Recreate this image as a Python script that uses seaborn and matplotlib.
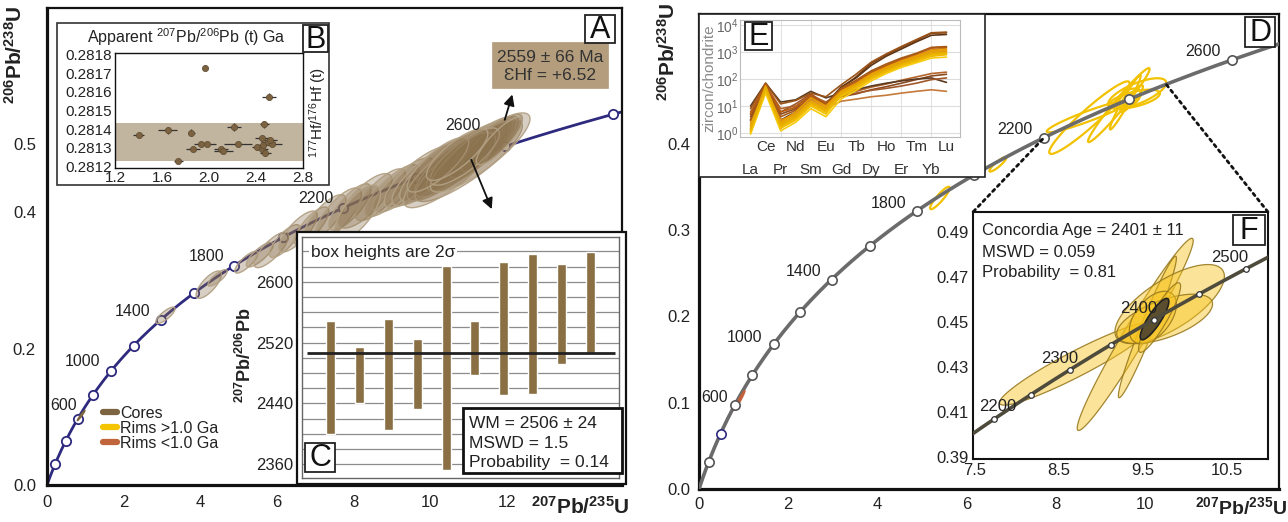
import numpy as np
import matplotlib
matplotlib.use("Agg")
import matplotlib.pyplot as plt
import seaborn as sns
from matplotlib.patches import Rectangle, ConnectionPatch
from matplotlib.lines import Line2D
from matplotlib.ticker import MultipleLocator, FixedLocator, NullLocator

# ======================= DATA =======================
LAMBDA_238 = 1.55125e-10   # decay constants (1/yr)
LAMBDA_235 = 9.8485e-10

# --- Panel A (cores / rims concordia) ---
a_marker_ages = [200, 400, 600, 800, 1000, 1200, 1400, 1600, 1800, 2000, 2200, 2400, 2600, 2800]
a_label_ages = [600, 1000, 1400, 1800, 2200, 2600]
# ellipses: centre 207Pb/235U, centre 206Pb/238U, half-extent x, half-extent y, correlation
a_ell_x = [3.09, 4.22, 4.45, 5.20, 5.55, 5.85, 6.20, 6.55, 6.90, 7.25, 7.60, 7.90, 8.30, 8.70,
           9.00, 9.30, 9.70, 10.00, 10.30, 10.60, 10.80, 11.00, 11.20, 11.40, 11.60, 11.00,
           10.50, 11.30, 10.90, 11.80, 10.20, 10.70, 8.10]
a_ell_y = [0.249, 0.294, 0.304, 0.327, 0.338, 0.345, 0.358, 0.372, 0.380, 0.392, 0.398, 0.408,
           0.417, 0.426, 0.432, 0.440, 0.452, 0.458, 0.466, 0.472, 0.478, 0.484, 0.490, 0.496,
           0.502, 0.476, 0.462, 0.488, 0.482, 0.505, 0.470, 0.485, 0.400]
a_ell_hx = [0.25, 0.33, 0.25, 0.30, 0.35, 0.45, 0.40, 0.50, 0.45, 0.55, 0.60, 0.55, 0.70, 0.65,
            0.70, 0.80, 0.90, 1.00, 1.10, 1.20, 1.20, 1.10, 1.00, 0.90, 0.80, 1.40, 1.20, 1.30,
            0.90, 0.60, 0.80, 0.80, 0.60]
a_ell_hy = [0.012, 0.020, 0.012, 0.016, 0.018, 0.026, 0.024, 0.030, 0.028, 0.034, 0.038, 0.034,
            0.040, 0.038, 0.038, 0.040, 0.045, 0.048, 0.050, 0.055, 0.055, 0.052, 0.050, 0.045,
            0.042, 0.060, 0.055, 0.058, 0.042, 0.035, 0.040, 0.038, 0.040]
a_ell_rho = [0.80, 0.75, 0.80, 0.80, 0.80, 0.78, 0.78, 0.78, 0.78, 0.76, 0.76, 0.78, 0.76, 0.78,
             0.80, 0.80, 0.80, 0.82, 0.82, 0.85, 0.85, 0.85, 0.85, 0.85, 0.85, 0.85, 0.82, 0.85,
             0.80, 0.85, 0.80, 0.80, 0.70]
a_young = [0.89, 0.102, 0.10, 0.0075, 0.97]     # young rim near 600 Ma

legend_labels = ["Cores", "Rims >1.0 Ga", "Rims <1.0 Ga"]
legend_colors = ["#7d6440", "#f5c400", "#c0643c"]

# --- Panel B (Hf isotopes) ---
b_age = [1.40, 1.65, 1.85, 1.74, 1.86, 1.93, 1.98, 1.97, 2.10, 2.12, 2.21, 2.25, 2.47, 2.51,
         2.45, 2.41, 2.45, 2.46, 2.50, 2.54, 2.48, 2.52]
b_hf = [0.281367, 0.281393, 0.281380, 0.281229, 0.281295, 0.281321, 0.281321, 0.281731,
        0.281295, 0.281284, 0.281410, 0.281321, 0.281426, 0.281575, 0.281350, 0.281302,
        0.281290, 0.281316, 0.281330, 0.281320, 0.281272, 0.281342]
b_age_err = [0.05, 0.08, 0.03, 0.04, 0.06, 0.06, 0.08, 0.02, 0.06, 0.08, 0.06, 0.12, 0.04, 0.06,
             0.06, 0.04, 0.05, 0.05, 0.06, 0.08, 0.05, 0.06]
b_hf_err = [0.000006, 0.000020, 0.000020, 0.000012, 0.000006, 0.000010, 0.000010, 0.000012,
            0.000008, 0.000008, 0.000020, 0.000005, 0.000020, 0.000020, 0.000010, 0.000012,
            0.000012, 0.000010, 0.000010, 0.000010, 0.000015, 0.000010]
b_band = [0.28123, 0.28143]

# --- Panel C (weighted mean) ---
c_low = [2400, 2440, 2405, 2433, 2353, 2478, 2451, 2453, 2492, 2506]
c_high = [2548, 2514, 2551, 2525, 2621, 2548, 2626, 2636, 2624, 2639]
c_mean = 2506

# --- Panel D (rims concordia) ---
d_marker_ages = [200, 400, 600, 800, 1000, 1200, 1400, 1600, 1800, 2000, 2200, 2400, 2600]
d_label_ages = [600, 1000, 1400, 1800, 2200, 2600]
d_ell_x = [5.40, 6.70, 8.75]
d_ell_y = [0.337, 0.376, 0.430]
d_ell_hx = [0.22, 0.19, 0.90]
d_ell_hy = [0.013, 0.0085, 0.042]
d_ell_rho = [0.90, 0.90, 0.95]
d_young = [0.905, 0.1025, 0.125, 0.0115, 0.97]

# --- Panel F (concordia age) ---
f_marker_ages = [2200, 2250, 2300, 2350, 2400, 2450, 2500]
f_label_ages = [2200, 2300, 2400, 2500]
f_ell_x = [8.715, 9.41, 9.555, 9.82, 9.76, 9.62, 9.70]
f_ell_y = [0.4315, 0.4445, 0.4478, 0.458, 0.4514, 0.452, 0.452]
f_ell_hx = [0.92, 0.69, 0.345, 0.651, 0.57, 0.28, 0.25]
f_ell_hy = [0.0185, 0.0428, 0.0315, 0.0176, 0.011, 0.0117, 0.0155]
f_ell_rho = [0.94, 0.975, 0.97, 0.70, 0.60, 0.50, 0.90]
f_conc = [9.64, 0.4513, 0.17, 0.0092, 0.85]

# --- Panel E (REE, zircon/chondrite) ---
ree_elements = ["La", "Ce", "Pr", "Nd", "Sm", "Eu", "Gd", "Tb", "Dy", "Ho", "Er", "Tm", "Yb", "Lu"]
ree_high = [
    [1.2, 55, 1.5, 4, 14, 8, 45, 120, 380, 800, 1500, 2700, 5000, 5200],
    [8, 70, 12, 16, 30, 22, 60, 150, 420, 850, 1600, 2900, 5200, 5500],
    [3, 50, 3, 6, 20, 12, 50, 110, 320, 700, 1300, 2400, 4200, 4500],
]
ree_mid_orange = [
    [2, 60, 3, 5, 15, 8, 35, 70, 160, 300, 500, 750, 1200, 1400],
    [1.5, 45, 2, 4, 12, 6, 28, 55, 130, 240, 400, 600, 950, 1100],
    [5, 65, 6, 9, 25, 12, 40, 80, 180, 320, 550, 850, 1400, 1500],
    [2.5, 50, 2.5, 5, 16, 9, 30, 60, 140, 260, 430, 650, 1000, 1150],
    [3, 55, 4, 7, 22, 11, 45, 90, 200, 360, 600, 900, 1500, 1600],
]
ree_mid_yellow = [
    [1, 40, 1.5, 3, 10, 5, 25, 50, 110, 200, 340, 520, 800, 900],
    [1.2, 35, 1.8, 3.5, 12, 7, 22, 45, 100, 180, 300, 450, 700, 800],
    [1.8, 55, 2.2, 4.5, 14, 8, 30, 60, 130, 230, 380, 580, 900, 1000],
    [0.9, 30, 1.2, 2.5, 8, 4, 18, 38, 85, 160, 270, 400, 600, 650],
    [1.5, 45, 2.5, 6, 20, 10, 35, 65, 150, 270, 450, 700, 1100, 1250],
    [1.1, 38, 1.6, 3.2, 11, 6, 24, 48, 105, 190, 320, 480, 750, 850],
    [1.4, 48, 1.9, 4, 13, 7, 27, 55, 120, 215, 360, 540, 850, 950],
]
ree_low = [
    [6, 60, 8, 10, 25, 14, 30, 35, 50, 65, 90, 120, 160, 180],
    [4, 50, 5, 8, 20, 10, 22, 28, 40, 52, 70, 95, 130, 150],
    [3, 40, 3, 5, 18, 8, 15, 18, 22, 25, 30, 35, 40, 35],
    [10, 70, 14, 17, 35, 20, 30, 40, 55, 70, 85, 100, 110, 75],
    [5, 55, 6, 12, 28, 12, 25, 30, 38, 45, 55, 70, 95, 110],
]

# ======================= STYLE / LAYOUT =======================
sns.set_theme(style="white")
plt.rcParams["font.family"] = ["Liberation Sans", "DejaVu Sans"]
plt.rcParams["mathtext.fontset"] = "custom"
plt.rcParams["mathtext.rm"] = "Liberation Sans"
plt.rcParams["mathtext.bf"] = "Liberation Sans:bold"
plt.rcParams["mathtext.it"] = "Liberation Sans:italic"
plt.rcParams["text.color"] = "#222222"

W, H = 1288, 522
fig = plt.figure(figsize=(W / 100, H / 100), dpi=100)
fig.patch.set_facecolor("white")
PT = 0.72  # points per pixel


def px_box(x0, y0, x1, y1):
    return [x0 / W, 1 - y1 / H, (x1 - x0) / W, (y1 - y0) / H]


def fig_rect(x0, y0, x1, y1, z, face="white", edge="#222222", lw=1.2):
    r = Rectangle((x0 / W, 1 - y1 / H), (x1 - x0) / W, (y1 - y0) / H,
                  transform=fig.transFigure, facecolor=face, edgecolor=edge, lw=lw, zorder=z)
    fig.add_artist(r)


def fig_text(x, y, s, **kw):
    kw.setdefault("zorder", 6)
    return fig.text(x / W, 1 - y / H, s, **kw)


def panel_letter(x0, y0, x1, y1, letter):
    fig_rect(x0, y0, x1, y1, 7, face="white", edge="#222222", lw=1.3)
    fig_text((x0 + x1) / 2, (y0 + y1) / 2 + 1, letter, ha="center", va="center",
             fontsize=22, zorder=8, color="#111111")


def conc_x(t):
    return np.exp(LAMBDA_235 * np.asarray(t, float) * 1e6) - 1


def conc_y(t):
    return np.exp(LAMBDA_238 * np.asarray(t, float) * 1e6) - 1


def ellipse(ax, cx, cy, hx, hy, rho, **kw):
    th = np.linspace(0, 2 * np.pi, 160)
    x = cx + hx * np.cos(th)
    y = cy + hy * (rho * np.cos(th) + np.sqrt(1 - rho ** 2) * np.sin(th))
    ax.fill(x, y, **kw)


def style_spines(ax, color="#111111", lw=1.5):
    for s in ax.spines.values():
        s.set_visible(True)
        s.set_color(color)
        s.set_linewidth(lw)


NAVY = "#2e2a7e"
t_curve = np.linspace(0, 2900, 600)

# ======================= PANEL A =======================
axA = fig.add_axes(px_box(47, 8, 622, 485))
axA.set_zorder(0)
axA.set_xlim(0, 15)
axA.set_ylim(0, 0.7)
sns.lineplot(x=conc_x(t_curve), y=conc_y(t_curve), sort=False, estimator=None,
             ax=axA, color=NAVY, lw=2.0, zorder=2)
sns.scatterplot(x=conc_x(a_marker_ages), y=conc_y(a_marker_ages), ax=axA, s=45,
                color="white", edgecolor=NAVY, linewidth=1.3, zorder=2.5)
for cx, cy, hx, hy, r in zip(a_ell_x, a_ell_y, a_ell_hx, a_ell_hy, a_ell_rho):
    ellipse(axA, cx, cy, hx, hy, r, facecolor=(0.55, 0.45, 0.31, 0.34),
            edgecolor=(0.70, 0.63, 0.52, 0.95), lw=1.0, zorder=3)
ellipse(axA, *a_young, facecolor="#7d6440", edgecolor="#7d6440", lw=1.0, zorder=3)

a_offsets = [(-14, -13), (-29, -9), (-28, -8), (-28, -9), (-27, -9), (-42, -21)]
for age, (dx, dy) in zip(a_label_ages, a_offsets):
    axA.annotate(str(age), (conc_x(age), conc_y(age)), xytext=(dx * PT, -dy * PT),
                 textcoords="offset points", ha="center", va="center", fontsize=11.5,
                 color="#222222", zorder=6)

axA.set_xticks(range(0, 16, 2))
axA.set_xticklabels(["0", "2", "4", "6", "8", "10", "12", ""])
axA.xaxis.set_minor_locator(MultipleLocator(1))
axA.set_yticks([0, 0.1, 0.2, 0.3, 0.4, 0.5, 0.6])
axA.set_yticklabels(["0.0", "", "0.2", "", "0.4", "0.5", ""])
axA.tick_params(axis="x", which="both", direction="in", length=5, width=1.3,
                labelsize=12, pad=7, colors="#111111", labelcolor="#222222")
axA.tick_params(axis="y", which="both", direction="inout", length=8, width=1.3,
                labelsize=12, pad=4, colors="#111111", labelcolor="#222222")
style_spines(axA, lw=1.6)
axA.spines["left"].set_linewidth(2.3)
axA.spines["bottom"].set_linewidth(2.3)

# arrows
axA.annotate("", xy=(12.16, 0.577), xytext=(11.92, 0.532),
             arrowprops=dict(arrowstyle="-|>", color="#111111", lw=1.3, mutation_scale=16), zorder=6)
axA.annotate("", xy=(11.63, 0.401), xytext=(11.04, 0.481),
             arrowprops=dict(arrowstyle="-|>", color="#111111", lw=1.3, mutation_scale=16), zorder=6)

handles = [Line2D([0], [0], color=c, lw=4.5) for c in legend_colors]
leg = axA.legend(handles, legend_labels, loc="upper left",
                 bbox_to_anchor=(103 / W, 1 - 406 / H), bbox_transform=fig.transFigure,
                 frameon=False, handlelength=0.9, handletextpad=0.15, labelspacing=0.0,
                 fontsize=11.5, borderaxespad=0, borderpad=0)

fig_text(15, 55, r"$\mathbf{^{206}Pb/^{238}U}$", rotation=90, ha="center", va="center", fontsize=15)
fig_text(580, 507, r"$\mathbf{^{207}Pb/^{235}U}$", ha="center", va="center", fontsize=15)

# tan summary box
fig_rect(492, 42, 608, 88, 5, face="#b39d7c", edge="#b39d7c", lw=0.5)
fig_text(550, 57, "2559 \u00b1 66 Ma", ha="center", va="center", fontsize=12.5, color="#333333")
fig_text(550, 76, "\u0190Hf = +6.52", ha="center", va="center", fontsize=12.5, color="#333333")
panel_letter(585, 15, 615, 43, "A")

# ======================= PANEL B =======================
fig_rect(57, 23, 329, 185, 1, face="white", edge="#333333", lw=1.2)
axB = fig.add_axes(px_box(115, 53, 303, 168))
axB.set_zorder(2)
axB.set_xlim(1.2, 2.8)
axB.set_ylim(0.28119, 0.28181)
axB.axhspan(b_band[0], b_band[1], color="#c2b59f", zorder=0, lw=0)
axB.errorbar(b_age, b_hf, xerr=b_age_err, yerr=b_hf_err, fmt="none", ecolor="#333333",
             elinewidth=0.9, capsize=0, zorder=2)
sns.scatterplot(x=b_age, y=b_hf, ax=axB, color="#7c6240", s=20, edgecolor="#5b4a30",
                linewidth=0.5, zorder=3)
axB.set_xticks([1.2, 1.6, 2.0, 2.4, 2.8])
axB.set_xticklabels(["1.2", "1.6", "2.0", "2.4", "2.8"])
axB.xaxis.set_minor_locator(MultipleLocator(0.1))
yt = [0.2812, 0.2813, 0.2814, 0.2815, 0.2816, 0.2817, 0.2818]
axB.set_yticks(yt)
axB.set_yticklabels(["%.4f" % v for v in yt])
axB.tick_params(which="both", direction="in", length=3, width=0.8, labelsize=11,
                pad=2, colors="#222222")
style_spines(axB, lw=1.0)
fig_text(186, 37, r"Apparent $^{207}$Pb/$^{206}$Pb (t) Ga", ha="center", va="center", fontsize=11.5)
fig_text(318, 112, r"$^{177}$Hf/$^{176}$Hf (t)", rotation=90, ha="center", va="center", fontsize=11)
panel_letter(303, 25, 328, 52, "B")

# ======================= PANEL C =======================
fig_rect(297, 232, 626, 484, 1, face="white", edge="#111111", lw=1.6)
axC = fig.add_axes(px_box(302, 237, 619, 478))
axC.set_zorder(2)
axC.set_xlim(0, 11)
axC.set_ylim(2342, 2659)
for v in range(2360, 2641, 20):
    axC.axhline(v, color="#8c8c8c", lw=0.9, zorder=0)
xpos = np.arange(1, len(c_low) + 1)
axC.bar(xpos, np.array(c_high) - np.array(c_low), bottom=c_low, width=0.31,
        color="#8a6f45", zorder=2)
axC.hlines(c_mean, 0.17, 10.86, color="#222222", lw=2.0, zorder=3)
axC.set_xticks([])
axC.set_yticks([2360, 2440, 2520, 2600])
axC.yaxis.set_minor_locator(FixedLocator([2400, 2480, 2560, 2640]))
axC.tick_params(axis="y", which="both", direction="out", length=4, width=0.9,
                labelsize=12, pad=2, colors="#222222")
style_spines(axC, color="#666666", lw=1.0)
fig_text(245, 355, r"$\mathbf{^{207}Pb/^{206}Pb}$", rotation=90, ha="center", va="center", fontsize=13)
fig_text(311, 252, "box heights are 2\u03c3", ha="left", va="center", fontsize=12.5,
         bbox=dict(facecolor="white", edgecolor="none", pad=1.5))
fig_rect(463, 408, 622, 473, 5, face="white", edge="#111111", lw=2.0)
fig_text(469, 423, "WM = 2506 \u00b1 24", ha="left", va="center", fontsize=12.5)
fig_text(469, 443, "MSWD = 1.5", ha="left", va="center", fontsize=12.5)
fig_text(469, 462, "Probability  = 0.14", ha="left", va="center", fontsize=12.5)
panel_letter(305, 443, 335, 472, "C")

# ======================= PANEL D =======================
axD = fig.add_axes(px_box(699, 14, 1279, 489))
axD.set_zorder(0)
axD.set_xlim(0, 13)
axD.set_ylim(0, 0.55)
YEL = "#f2c100"
for cx, cy, hx, hy, r in zip(f_ell_x + d_ell_x, f_ell_y + d_ell_y, f_ell_hx + d_ell_hx,
                             f_ell_hy + d_ell_hy, f_ell_rho + d_ell_rho):
    ellipse(axD, cx, cy, hx, hy, r, facecolor="none", edgecolor=YEL, lw=1.6, zorder=3)
sns.lineplot(x=conc_x(t_curve), y=conc_y(t_curve), sort=False, estimator=None,
             ax=axD, color="#6b6b6b", lw=2.6, zorder=4)
ellipse(axD, *d_young, facecolor="#c4603a", edgecolor="#c4603a", lw=1.0, zorder=5)
d_plain = [a for a in d_marker_ages if a != 400]
sns.scatterplot(x=conc_x(d_plain), y=conc_y(d_plain), ax=axD, s=45, color="white",
                edgecolor="#555555", linewidth=1.2, zorder=6)
sns.scatterplot(x=conc_x([400]), y=conc_y([400]), ax=axD, s=45, color="white",
                edgecolor=NAVY, linewidth=1.2, zorder=6)
d_offsets = [(-20, -7), (-29, -7), (-28, -8), (-28, -7), (-29, -8), (-29, -8)]
for age, (dx, dy) in zip(d_label_ages, d_offsets):
    axD.annotate(str(age), (conc_x(age), conc_y(age)), xytext=(dx * PT, -dy * PT),
                 textcoords="offset points", ha="center", va="center", fontsize=11.5,
                 color="#222222", zorder=7)
axD.set_xticks(range(0, 14, 2))
axD.set_xticklabels(["0", "2", "4", "6", "8", "10", ""])
axD.xaxis.set_minor_locator(MultipleLocator(1))
axD.set_yticks([0, 0.1, 0.2, 0.3, 0.4, 0.5])
axD.set_yticklabels(["0.0", "0.1", "0.2", "0.3", "0.4", ""])
axD.yaxis.set_minor_locator(MultipleLocator(0.05))
axD.tick_params(which="both", direction="in", length=5, width=1.3, labelsize=12,
                pad=6, colors="#111111", labelcolor="#222222")
style_spines(axD, lw=1.6)
axD.spines["left"].set_linewidth(2.3)
axD.spines["bottom"].set_linewidth(2.3)
fig_text(668, 52, r"$\mathbf{^{206}Pb/^{238}U}$", rotation=90, ha="center", va="center", fontsize=15)
fig_text(1241, 507, r"$\mathbf{^{207}Pb/^{235}U}$", ha="center", va="center", fontsize=14)
panel_letter(1245, 17, 1275, 47, "D")

# ======================= PANEL E =======================
fig_rect(699, 14, 985, 177, 1, face="white", edge="#222222", lw=1.2)
axE = fig.add_axes(px_box(740, 20, 960, 137))
axE.set_zorder(2)
axE.set_yscale("log")
axE.set_xlim(-0.7, 13.9)
axE.set_ylim(10 ** -0.15, 10 ** 4.19)
xi = np.arange(len(ree_elements))
groups = [(ree_low, ["#b5652a", "#8b4a20", "#c47a3a", "#5a3a20", "#a0582a"]),
          (ree_high, ["#7a3f12", "#9a5318", "#5e3414"]),
          (ree_mid_orange, ["#d98a12", "#c86e10", "#b85c10", "#e29a20", "#a85a18"]),
          (ree_mid_yellow, ["#f5c400", "#f0b400", "#eaa800", "#f7cc10", "#e9a000", "#f3bb00",
                            "#e6b000"])]
for pats, cols in groups:
    for pat, col in zip(pats, cols):
        sns.lineplot(x=xi, y=pat, ax=axE, color=col, lw=1.2, estimator=None, zorder=3)
axE.yaxis.grid(True, color="#dddddd", lw=0.8)
for gx in [2, 4, 6, 8, 10, 12]:
    axE.axvline(gx, color="#e3e3e3", lw=0.8, zorder=0)
axE.set_yticks([1, 10, 100, 1000, 10000])
axE.yaxis.set_minor_locator(NullLocator())
odd_idx = [i for i in xi if i % 2 == 1]
even_idx = [i for i in xi if i % 2 == 0]
axE.set_xticks(odd_idx)
axE.set_xticklabels([ree_elements[i] for i in odd_idx])
axE.set_xticks(even_idx, minor=True)
axE.set_xticklabels([ree_elements[i] for i in even_idx], minor=True)
axE.tick_params(axis="x", which="major", length=0, labelsize=11, pad=2, labelcolor="#333333")
axE.tick_params(axis="x", which="minor", length=0, labelsize=11, pad=19, labelcolor="#333333")
axE.tick_params(axis="y", length=0, labelsize=10, pad=1, labelcolor="#666666")
axE.set_ylabel("zircon/chondrite", color="#8a8a8a", fontsize=11, labelpad=0)
style_spines(axE, color="#bbbbbb", lw=0.8)
axE.set_xlabel("")
panel_letter(745, 22, 772, 50, "E")

# ======================= PANEL F =======================
axF = fig.add_axes(px_box(973, 212, 1268, 459))
axF.set_zorder(2)
axF.set_facecolor("white")
axF.set_xlim(7.48, 10.99)
axF.set_ylim(0.389, 0.499)
for cx, cy, hx, hy, r in zip(f_ell_x, f_ell_y, f_ell_hx, f_ell_hy, f_ell_rho):
    ellipse(axF, cx, cy, hx, hy, r, facecolor=(0.97, 0.77, 0.12, 0.45),
            edgecolor=(0.60, 0.48, 0.12, 0.9), lw=0.9, zorder=3)
ellipse(axF, *f_conc, facecolor="#5b4e2e", edgecolor="#222222", lw=1.2, zorder=4)
sns.lineplot(x=conc_x(t_curve), y=conc_y(t_curve), sort=False, estimator=None,
             ax=axF, color="#4f4b3c", lw=2.6, zorder=5)
sns.scatterplot(x=conc_x(f_marker_ages), y=conc_y(f_marker_ages), ax=axF, s=16,
                color="white", edgecolor="#333333", linewidth=0.9, zorder=6)
f_offsets = [(4, -13), (-10, -11.5), (-14.5, -10.7), (-16.7, -10.7)]
for age, (dx, dy) in zip(f_label_ages, f_offsets):
    axF.annotate(str(age), (conc_x(age), conc_y(age)), xytext=(dx * PT, -dy * PT),
                 textcoords="offset points", ha="center", va="center", fontsize=12,
                 color="#222222", zorder=7)
axF.set_xticks([7.5, 8.5, 9.5, 10.5])
axF.xaxis.set_minor_locator(FixedLocator([8.0, 9.0, 10.0]))
axF.set_yticks([0.39, 0.41, 0.43, 0.45, 0.47, 0.49])
axF.set_yticklabels(["0.39", "0.41", "0.43", "0.45", "0.47", "0.49"])
axF.yaxis.set_minor_locator(FixedLocator([0.40, 0.42, 0.44, 0.46, 0.48]))
axF.tick_params(which="both", direction="in", length=4, width=1.0, labelsize=12,
                pad=3, colors="#111111", labelcolor="#222222")
style_spines(axF, lw=1.5)
fig_text(982, 231, "Concordia Age = 2401 \u00b1 11", ha="left", va="center", fontsize=12)
fig_text(982, 252, "MSWD = 0.059", ha="left", va="center", fontsize=12)
fig_text(982, 272, "Probability  = 0.81", ha="left", va="center", fontsize=12)
panel_letter(1233, 215, 1265, 245, "F")

# dotted connectors from D to F
for xyA, xyB in [((7.70, 0.405), (0, 1)), ((10.48, 0.468), (1, 1))]:
    con = ConnectionPatch(xyA=xyA, coordsA=axD.transData, xyB=xyB, coordsB=axF.transAxes,
                          linestyle=(0, (1, 1.5)), color="#111111", lw=2.0, zorder=5)
    fig.add_artist(con)

fig.savefig("out.png", dpi=100, facecolor="white")
